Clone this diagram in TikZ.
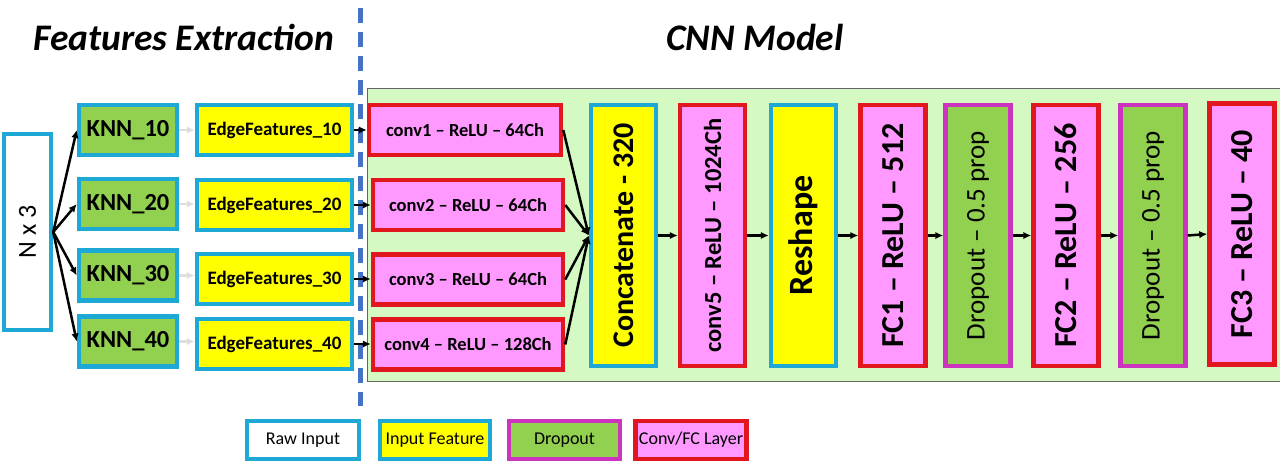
\documentclass[tikz,border=0pt]{standalone}
\usepackage{fontspec}
\setmainfont{Carlito}
\usepackage{graphicx}
\usetikzlibrary{arrows.meta}
\definecolor{cyanb}{RGB}{30,168,214}
\definecolor{greenf}{RGB}{146,208,80}
\definecolor{yellowf}{RGB}{255,255,0}
\definecolor{pinkf}{RGB}{255,153,255}
\definecolor{redb}{RGB}{226,22,30}
\definecolor{magb}{RGB}{204,51,190}
\definecolor{panelf}{RGB}{212,249,195}
\definecolor{dashb}{RGB}{68,114,196}
\definecolor{faintg}{RGB}{222,222,222}
\newcommand{\fsz}[1]{\fontsize{#1}{#1}\selectfont}
\begin{document}
\begin{tikzpicture}[x=1pt,y=-1pt,
  box/.style={draw, line width=4.5pt, inner sep=0pt, align=center, text=black},
  rawbox/.style={box, draw=cyanb, fill=white},
  featbox/.style={box, draw=cyanb, fill=yellowf},
  knnbox/.style={box, draw=cyanb, fill=greenf},
  dropbox/.style={box, draw=magb, fill=greenf},
  layerbox/.style={box, draw=redb, fill=pinkf},
  knnsize/.style={minimum width=98, minimum height=50, font=\fsz{24.5}\bfseries},
  edgesize/.style={minimum width=155, minimum height=50, font=\fsz{19}\bfseries},
  convsize/.style={minimum width=190, minimum height=50, font=\fsz{18.5}\bfseries},
  tall/.style={minimum width=65, minimum height=261},
  legsize/.style={minimum width=111, minimum height=38, font=\fsz{18}},
  head/.style={font=\fsz{37.5}\bfseries\itshape, text=black},
  arr/.style={-{Latex[length=8pt,width=7.5pt]}, line width=2.5pt, black},
  faint/.style={-{Latex[length=8pt,width=7.5pt]}, line width=2.5pt, faintg},
  sep/.style={dashb, line width=5pt, dash pattern=on 15pt off 9pt}
]
\useasboundingbox (0,0) rectangle (1280,466);
\fill[white] (0,0) rectangle (1280,466);

% CNN panel
\draw[fill=panelf, draw=black!60, line width=1pt] (367,88) rectangle (1284,381);

% headings
\node[head] (h1) at (184,37) {Features Extraction};
\node[head] (h2) at (755,37) {CNN Model};

% separator
\coordinate (dtop) at (360,8);
\coordinate (dbot) at (360,406);
\draw[sep] (dtop) -- (dbot);

% raw input
\node[rawbox, minimum width=47, minimum height=196, font=\fsz{26}] (nx3) at (27.5,232) {\rotatebox{90}{N x 3}};

% KNN boxes
\node[knnbox, knnsize] (knn1) at (128,130) {KNN\_10};
\node[knnbox, knnsize] (knn2) at (128,204) {KNN\_20};
\node[knnbox, knnsize] (knn3) at (128,275.5) {KNN\_30};
\node[knnbox, knnsize] (knn4) at (128,341.5) {KNN\_40};

% Edge features
\node[featbox, edgesize] (edge1) at (274.5,130) {EdgeFeatures\_10};
\node[featbox, edgesize] (edge2) at (274.5,205) {EdgeFeatures\_20};
\node[featbox, edgesize] (edge3) at (274.5,279) {EdgeFeatures\_30};
\node[featbox, edgesize] (edge4) at (274.5,344) {EdgeFeatures\_40};

% conv boxes
\node[layerbox, convsize, minimum width=192] (conv1) at (465,130) {conv1 – ReLU – 64Ch};
\node[layerbox, convsize] (conv2) at (468,205) {conv2 – ReLU – 64Ch};
\node[layerbox, convsize] (conv3) at (468,279.5) {conv3 – ReLU – 64Ch};
\node[layerbox, convsize] (conv4) at (468,344.5) {conv4 – ReLU – 128Ch};

% tall boxes
\node[featbox, tall, font=\fsz{30}\bfseries] (concat) at (623.5,235.5) {\rotatebox{90}{Concatenate - 320}};
\node[layerbox, tall, font=\fsz{24.5}\bfseries] (conv5) at (712.5,235.5) {\rotatebox{90}{conv5 – ReLU – 1024Ch}};
\node[featbox, tall, font=\fsz{34}\bfseries] (reshape) at (803.5,235.5) {\rotatebox{90}{Reshape}};
\node[layerbox, tall, font=\fsz{32}\bfseries] (fc1) at (893,235.5) {\rotatebox{90}{FC1 – ReLU – 512}};
\node[dropbox, tall, font=\fsz{27}] (drop1) at (978,235.5) {\rotatebox{90}{Dropout – 0.5 prop}};
\node[layerbox, tall, font=\fsz{32}\bfseries] (fc2) at (1066,235.5) {\rotatebox{90}{FC2 – ReLU – 256}};
\node[dropbox, tall, font=\fsz{27}] (drop2) at (1153,235.5) {\rotatebox{90}{Dropout – 0.5 prop}};
\node[layerbox, tall, font=\fsz{32}\bfseries] (fc3) at (1242,234) {\rotatebox{90}{FC3 – ReLU – 40}};

% legend
\node[rawbox, legsize, minimum width=112] (l1) at (303,440) {Raw Input};
\node[featbox, legsize, minimum width=110] (l2) at (435,440) {Input Feature};
\node[dropbox, legsize] (l3) at (564.5,440) {Dropout};
\node[layerbox, legsize] (l4) at (691,440) {Conv/FC Layer};

% connectors
\foreach \i in {1,2,3,4}{
  \draw[arr] (nx3.east) -- (knn\i.west);
  \draw[faint] (knn\i.east) -- (knn\i.east -| edge\i.west);
  \draw[arr] (edge\i.east) -- (edge\i.east -| conv\i.west);
  \draw[arr] (conv\i.east) -- (concat.west);
}
\draw[arr] (concat.east) -- (conv5.west);
\draw[arr] (conv5.east) -- (reshape.west);
\draw[arr] (reshape.east) -- (fc1.west);
\draw[arr] (fc1.east) -- (drop1.west);
\draw[arr] (drop1.east) -- (fc2.west);
\draw[arr] (fc2.east) -- (drop2.west);
\draw[arr] (drop2.east) -- (fc3.west);
\end{tikzpicture}
\end{document}
